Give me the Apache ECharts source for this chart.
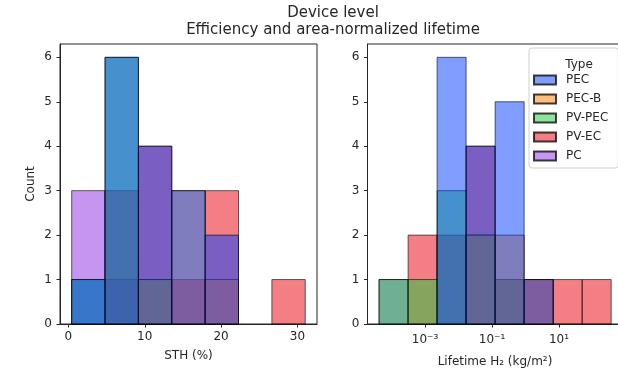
<!DOCTYPE html>
<html>
<head>
<meta charset="utf-8">
<script src="https://cdn.jsdelivr.net/npm/echarts@6/dist/echarts.min.js"></script>
<style>
html, body { margin: 0; padding: 0; background: #fff; }
#chart { width: 618px; height: 371px; }
</style>
</head>
<body>
<div id="chart"></div>
<script>
var types = ['PEC', 'PEC-B', 'PV-PEC', 'PV-EC', 'PC'];
var colors = ['rgba(2,62,255,0.5)', 'rgba(255,124,0,0.5)', 'rgba(26,201,56,0.5)', 'rgba(232,0,11,0.5)', 'rgba(139,43,226,0.5)'];

// left panel: STH (%) bin edges and counts per type
var sthEdges = [0.43, 4.80, 9.17, 13.54, 17.91, 22.28, 26.65, 31.02];
var sthPEC   = [1, 6, 4, 3, 2, 0, 0];
var sthPECB  = [0, 0, 1, 3, 1, 0, 0];
var sthPVPEC = [1, 6, 1, 0, 0, 0, 0];
var sthPVEC  = [0, 3, 4, 1, 3, 0, 1];
var sthPC    = [3, 1, 0, 0, 0, 0, 0];
var sthTicks = [0, 10, 20, 30];

// right panel: lifetime bin edges (log10 kg/m2) and counts per type
var lifeEdges = [-4.37, -3.504, -2.638, -1.772, -0.906, -0.04, 0.826, 1.692, 2.558];
var lifePEC   = [0, 0, 6, 4, 5, 1, 0, 0];
var lifePECB  = [0, 0, 0, 2, 2, 1, 0, 0];
var lifePVPEC = [1, 1, 3, 2, 1, 0, 0, 0];
var lifePVEC  = [0, 2, 2, 4, 1, 1, 1, 1];
var lifePC    = [1, 0, 0, 0, 0, 0, 0, 0];
var lifeTicks = [-3, -1, 1];
var countTicks = [0, 1, 2, 3, 4, 5, 6];

var sthCounts = {'PEC': sthPEC, 'PEC-B': sthPECB, 'PV-PEC': sthPVPEC, 'PV-EC': sthPVEC, 'PC': sthPC};
var lifeCounts = {'PEC': lifePEC, 'PEC-B': lifePECB, 'PV-PEC': lifePVPEC, 'PV-EC': lifePVEC, 'PC': lifePC};

var sup = {'-': '\u207b', '1': '\u00b9', '3': '\u00b3'};
function powLabel(v) {
    var s = String(v).split('').map(function (c) { return sup[c]; }).join('');
    return '10' + s;
}

function bins(edges, counts) {
    var out = [];
    for (var i = 0; i < counts.length; i++) {
        if (counts[i] > 0) out.push([edges[i], edges[i + 1], counts[i]]);
    }
    return out;
}

function renderBar(params, api) {
    var p0 = api.coord([api.value(0), 0]);
    var p1 = api.coord([api.value(1), api.value(2)]);
    return {
        type: 'rect',
        shape: {x: p0[0], y: p1[1], width: p1[0] - p0[0], height: p0[1] - p1[1]},
        style: {fill: api.visual('color'), stroke: 'rgba(0,0,0,0.6)', lineWidth: 1}
    };
}

var series = [];
// seaborn draws the last hue first, so PEC ends on top
for (var k = types.length - 1; k >= 0; k--) {
    var t = types[k];
    var style = {color: colors[k], borderColor: 'rgba(0,0,0,0.75)', borderWidth: 1};
    series.push({name: t, type: 'custom', xAxisIndex: 0, yAxisIndex: 0,
        renderItem: renderBar, itemStyle: style, data: bins(sthEdges, sthCounts[t])});
    series.push({name: t, type: 'custom', xAxisIndex: 1, yAxisIndex: 1,
        renderItem: renderBar, itemStyle: style, data: bins(lifeEdges, lifeCounts[t])});
}

var txt = '#262626';
var font = 'DejaVu Sans';
var axisLine = {show: true, onZero: false, lineStyle: {color: txt, width: 1}};

var myChart = echarts.init(document.getElementById('chart'));
myChart.setOption({
    animation: false,
    textStyle: {fontFamily: font},
    title: [
        {
            text: 'Device level\nEfficiency and area-normalized lifetime',
            left: 328, top: 0, textAlign: 'center',
            textStyle: {fontFamily: font, fontSize: 15, fontWeight: 'normal', color: txt, lineHeight: 16.5}
        },
        {
            text: 'Type', left: 574, top: 54, textAlign: 'center', z: 10,
            textStyle: {fontFamily: font, fontSize: 12, fontWeight: 'normal', color: txt}
        }
    ],
    legend: {
        data: types, orient: 'vertical', left: 529, top: 48,
        padding: [26, 10, 6, 4], itemGap: 7, itemWidth: 22, itemHeight: 9, icon: 'rect',
        backgroundColor: 'rgba(255,255,255,0.8)', borderColor: '#d0d0d0', borderWidth: 1, borderRadius: 3,
        textStyle: {fontFamily: font, fontSize: 12, color: txt, padding: [0, 0, 0, 5]}
    },
    grid: [
        {left: 60, top: 44, right: 301, bottom: 47, outerBoundsMode: 'none', show: true, borderColor: txt, borderWidth: 1},
        {left: 367.5, top: 44, right: -4.5, bottom: 47, outerBoundsMode: 'none', show: true, borderColor: txt, borderWidth: 1}
    ],
    xAxis: [
        {
            type: 'value', gridIndex: 0, min: -1.1, max: 32.56,
            name: 'STH (%)', nameLocation: 'middle', nameGap: 26,
            nameTextStyle: {fontFamily: font, fontSize: 12, color: txt},
            axisLine: axisLine, axisTick: {show: true, inside: false, length: 3.5, lineStyle: {color: txt}, customValues: sthTicks},
            axisLabel: {customValues: sthTicks, margin: 7, fontSize: 12, color: txt},
            splitLine: {show: false}
        },
        {
            type: 'value', gridIndex: 1, min: -4.716, max: 2.896,
            name: 'Lifetime H\u2082 (kg/m\u00b2)', nameLocation: 'middle', nameGap: 32,
            nameTextStyle: {fontFamily: font, fontSize: 12, color: txt},
            axisLine: axisLine, axisTick: {show: true, inside: false, length: 3.5, lineStyle: {color: txt}, customValues: lifeTicks},
            axisLabel: {customValues: lifeTicks, margin: 10, fontSize: 12, color: txt, formatter: powLabel},
            splitLine: {show: false}
        }
    ],
    yAxis: [
        {
            type: 'value', gridIndex: 0, min: 0, max: 6.3,
            name: 'Count', nameLocation: 'middle', nameGap: 23,
            nameTextStyle: {fontFamily: font, fontSize: 12, color: txt},
            axisLine: axisLine, axisTick: {show: true, inside: false, length: 3.5, lineStyle: {color: txt}, customValues: countTicks},
            axisLabel: {customValues: countTicks, margin: 8, fontSize: 12, color: txt},
            splitLine: {show: false}
        },
        {
            type: 'value', gridIndex: 1, min: 0, max: 6.3,
            axisLine: axisLine, axisTick: {show: true, inside: false, length: 3.5, lineStyle: {color: txt}, customValues: countTicks},
            axisLabel: {customValues: countTicks, margin: 8, fontSize: 12, color: txt},
            splitLine: {show: false}
        }
    ],
    series: series
});
</script>
</body>
</html>
